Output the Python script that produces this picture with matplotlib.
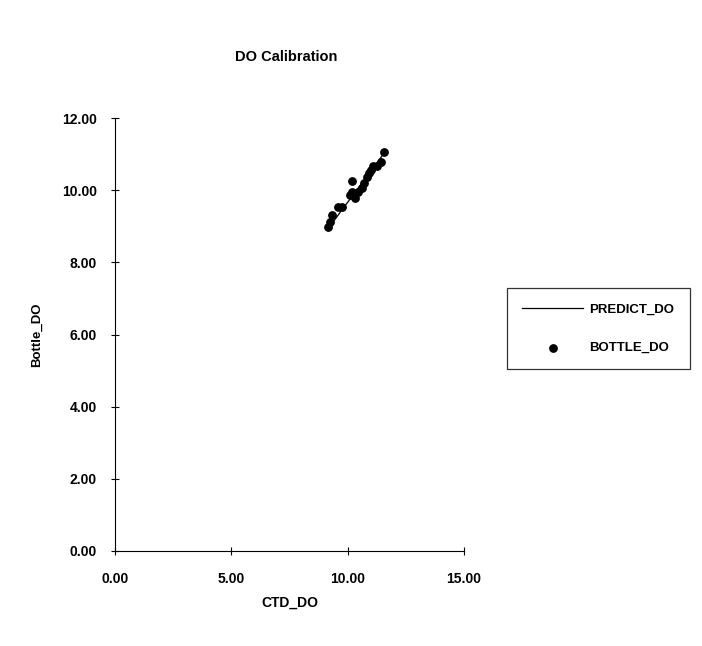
import matplotlib.pyplot as plt
from matplotlib.ticker import FormatStrFormatter

plt.rcParams['font.family'] = ['Liberation Sans', 'DejaVu Sans']

# ---------------- DATA ----------------
ctd_do = [9.15, 9.24, 9.33, 9.58, 9.75, 10.10, 10.19, 10.19, 10.31, 10.44,
          10.60, 10.70, 10.83, 10.90, 11.00, 11.09, 11.26, 11.43, 11.56]
bottle_do = [8.98, 9.11, 9.31, 9.53, 9.54, 9.86, 10.26, 9.94, 9.78, 9.94,
             10.06, 10.19, 10.36, 10.47, 10.55, 10.66, 10.68, 10.78, 11.05]
predict_do = [8.92, 9.00, 9.08, 9.30, 9.45, 9.75, 9.83, 9.83, 9.93, 10.05,
              10.19, 10.27, 10.39, 10.45, 10.53, 10.61, 10.76, 10.91, 11.02]

x_ticks = [0, 5, 10, 15]
y_ticks = [0, 2, 4, 6, 8, 10, 12]

# ---------------- PLOT ----------------
fig = plt.figure(figsize=(7.02, 6.46), dpi=100)
ax = fig.add_axes([115/702, 1 - 551/646, (464 - 115)/702, (551 - 118)/646])

line, = ax.plot(ctd_do, predict_do, color='black', lw=0.9, label='PREDICT_DO')
pts = ax.scatter(ctd_do, bottle_do, s=28, color='black', zorder=3, label='BOTTLE_DO')

ax.set_xlim(0, 15)
ax.set_ylim(0, 12)
ax.set_xticks(x_ticks)
ax.set_yticks(y_ticks)
ax.xaxis.set_major_formatter(FormatStrFormatter('%.2f'))
ax.yaxis.set_major_formatter(FormatStrFormatter('%.2f'))

for s in ['top', 'right']:
    ax.spines[s].set_visible(False)
ax.spines['left'].set_linewidth(0.8)
ax.spines['bottom'].set_linewidth(0.8)

ax.tick_params(axis='x', direction='inout', length=6, width=0.8, pad=12, labelsize=10)
ax.tick_params(axis='y', direction='inout', length=6, width=0.8, pad=10, labelsize=10)
for lab in ax.get_xticklabels() + ax.get_yticklabels():
    lab.set_fontweight('bold')

ax.set_title('DO Calibration', fontsize=10.5, fontweight='bold', pad=41)
ax.title.set_position((0.49, 1.0))
ax.set_xlabel('CTD_DO', fontsize=10, fontweight='bold', labelpad=7)
ax.set_ylabel('Bottle_DO', fontsize=9.5, fontweight='bold', labelpad=14)

leg = fig.legend(handles=[line, pts], loc='upper left',
                 bbox_to_anchor=(507/702, 1 - 288/646), borderaxespad=0,
                 frameon=True, fancybox=False, edgecolor='black',
                 fontsize=9.5, handlelength=4.6, labelspacing=2.0,
                 borderpad=1.15, handletextpad=0.5)
leg.get_frame().set_linewidth(0.9)
for t in leg.get_texts():
    t.set_fontweight('bold')

fig.savefig('out.png', dpi=100)
